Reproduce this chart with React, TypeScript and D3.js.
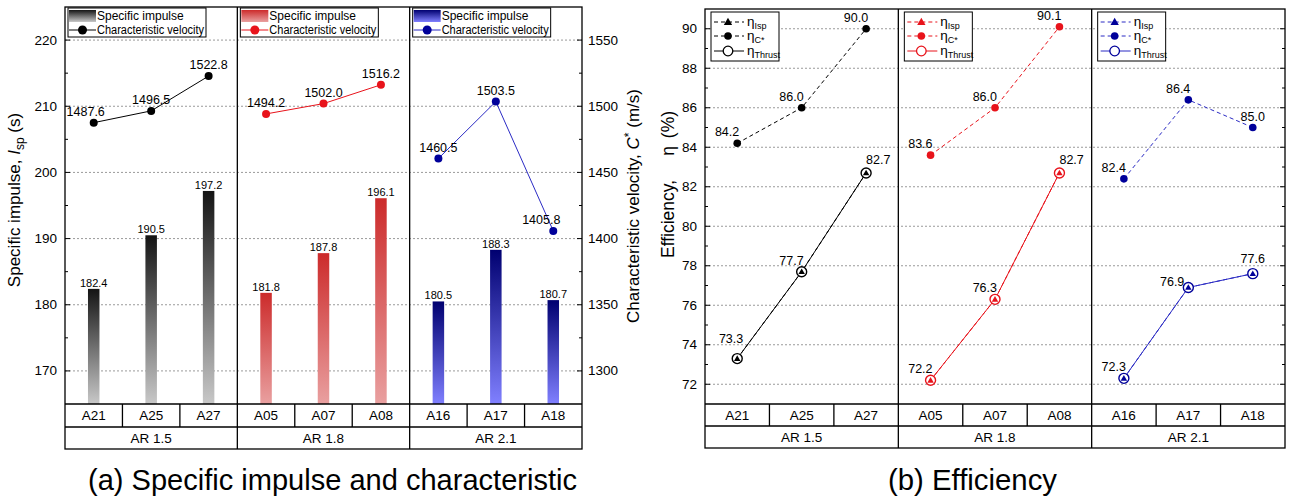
import React from "react";
import * as d3 from "d3";

const groups = ["AR 1.5", "AR 1.8", "AR 2.1"];
const categories = ["A21", "A25", "A27", "A05", "A07", "A08", "A16", "A17", "A18"];
const categoryGroup = [0, 0, 0, 1, 1, 1, 2, 2, 2];
const specificImpulse = [182.4, 190.5, 197.2, 181.8, 187.8, 196.1, 180.5, 188.3, 180.7];
const charVelocity = [1487.6, 1496.5, 1522.8, 1494.2, 1502.0, 1516.2, 1460.5, 1503.5, 1405.8];
const etaIsp = [73.3, 77.7, 82.7, 72.2, 76.3, 82.7, 72.3, 76.9, 77.6];
const etaCstar = [84.2, 86.0, 90.0, 83.6, 86.0, 90.1, 82.4, 86.4, 85.0];
const etaThrust = [73.3, 77.7, 82.7, 72.2, 76.3, 82.7, 72.3, 76.9, 77.6];
const ispTicks = [170, 180, 190, 200, 210, 220];
const ispMinor = [175, 185, 195, 205, 215];
const cstarTicks = [1300, 1350, 1400, 1450, 1500, 1550];
const cstarMinor = [1325, 1375, 1425, 1475, 1525];
const etaTicks = [72, 74, 76, 78, 80, 82, 84, 86, 88, 90];
const etaMinor = [73, 75, 77, 79, 81, 83, 85, 87, 89];

// label placement codes (style, not data)
const cvLabelPlace = ["u-", "u", "u", "u", "u", "u", "u", "u", "u--"];
const cstarLabelPlace = ["ul", "ul", "ul", "ul", "ul", "ul", "ul", "ul", "u"];
const thrustLabelPlace = ["ul+", "ul", "ur", "ul", "ul", "ur", "ul", "l", "u+"];

const lineColors = ["#000000", "#e8131b", "#2b2bc4"];
const markerColors = ["#000000", "#e8131b", "#00009a"];
const gradTop = ["#141414", "#cc2b2b", "#000070"];
const gradBottom = ["#c8c8c8", "#e9a0a0", "#8080ff"];

const FONT = "'Liberation Sans', Arial, Helvetica, sans-serif";

function placement(code: string) {
  switch (code) {
    case "u-": return { anchor: "middle", dx: -8, dy: -7 };
    case "u--": return { anchor: "middle", dx: -12, dy: -7 };
    case "u": return { anchor: "middle", dx: 0, dy: -7 };
    case "u+": return { anchor: "middle", dx: 0, dy: -11 };
    case "ul": return { anchor: "end", dx: 2, dy: -7 };
    case "ul+": return { anchor: "end", dx: 6, dy: -16 };
    case "ur": return { anchor: "start", dx: 0, dy: -9 };
    case "l": return { anchor: "end", dx: -4, dy: -1 };
    default: return { anchor: "middle", dx: 0, dy: -7 };
  }
}

function Triangle({ x, y, s, fill }: { x: number; y: number; s: number; fill: string }) {
  const p = d3.symbol(d3.symbolTriangle, s)();
  return <path d={p || ""} transform={`translate(${x},${y + 0.5})`} fill={fill} />;
}

function ChartA() {
  const x0 = 65, x1 = 582, yBottom = 404, catBottom = 427, grpBottom = 449;
  const y = d3.scaleLinear().domain([165, 225]).range([404, 7]);
  const yc = d3.scaleLinear().domain([1275, 1575]).range([404, 7]);
  const yTop = y(225);
  const gx = d3.scaleBand<string>().domain(groups).range([x0, x1]);
  const cx = d3.scaleBand<string>().domain(categories).range([x0, x1]);
  const barW = 11.5;
  return (
    <g fontFamily={FONT}>
      <defs>
        {groups.map((g, i) => (
          <linearGradient key={g} id={`barGrad${i}`} x1="0" y1="0" x2="0" y2="1">
            <stop offset="0" stopColor={gradTop[i]} />
            <stop offset="1" stopColor={gradBottom[i]} />
          </linearGradient>
        ))}
      </defs>
      {ispTicks.map((t) => (
        <line key={t} x1={x0} x2={x1} y1={y(t)} y2={y(t)} stroke="#9a9a9a" strokeDasharray="2,2" />
      ))}
      {categories.map((c, i) => {
        const bx = (cx(c) as number) + cx.bandwidth() / 2;
        return (
          <g key={c}>
            <rect x={bx - barW / 2} y={y(specificImpulse[i])} width={barW} height={yBottom - y(specificImpulse[i])} fill={`url(#barGrad${categoryGroup[i]})`} />
            <text x={bx} y={y(specificImpulse[i]) - 2} textAnchor="middle" fontSize={11}>{specificImpulse[i].toFixed(1)}</text>
          </g>
        );
      })}
      {groups.map((g, gi) => {
        const idx = categories.map((_, i) => i).filter((i) => categoryGroup[i] === gi);
        const line = d3.line<number>().x((i) => (cx(categories[i]) as number) + cx.bandwidth() / 2).y((i) => yc(charVelocity[i]));
        return (
          <g key={g}>
            <path d={line(idx) || ""} fill="none" stroke={lineColors[gi]} strokeWidth={1} />
            {idx.map((i) => {
              const px = (cx(categories[i]) as number) + cx.bandwidth() / 2;
              const py = yc(charVelocity[i]);
              const p = placement(cvLabelPlace[i]);
              return (
                <g key={i}>
                  <circle cx={px} cy={py} r={4} fill={markerColors[gi]} />
                  <text x={px + p.dx} y={py + p.dy} textAnchor={p.anchor as any} fontSize={12.5}>{charVelocity[i].toFixed(1)}</text>
                </g>
              );
            })}
          </g>
        );
      })}
      {ispTicks.map((t) => (
        <g key={t}>
          <line x1={x0} x2={x0 + 5} y1={y(t)} y2={y(t)} stroke="#000" />
          <text x={x0 - 8} y={y(t) + 4.5} textAnchor="end" fontSize={13.5}>{t}</text>
        </g>
      ))}
      {ispMinor.map((t) => (
        <line key={t} x1={x0} x2={x0 + 3} y1={y(t)} y2={y(t)} stroke="#000" />
      ))}
      {cstarTicks.map((t) => (
        <g key={t}>
          <line x1={x1 - 5} x2={x1} y1={yc(t)} y2={yc(t)} stroke="#000" />
          <text x={x1 + 6} y={yc(t) + 4.5} textAnchor="start" fontSize={13.5}>{t}</text>
        </g>
      ))}
      {cstarMinor.map((t) => (
        <line key={t} x1={x1 - 3} x2={x1} y1={yc(t)} y2={yc(t)} stroke="#000" />
      ))}
      {groups.map((g, gi) => {
        const lx = (gx(g) as number) + 3;
        const ly = yTop + 1;
        return (
          <g key={g}>
            <rect x={lx} y={ly} width={138} height={29} fill="#fff" stroke="#000" />
            <rect x={lx + 1} y={ly + 2} width={27} height={12} fill={`url(#barGrad${gi})`} />
            <text x={lx + 29} y={ly + 12} fontSize={12}>Specific impulse</text>
            <line x1={lx + 1} x2={lx + 28} y1={ly + 22} y2={ly + 22} stroke={lineColors[gi]} />
            <circle cx={lx + 14.5} cy={ly + 22} r={4.5} fill={markerColors[gi]} />
            <text x={lx + 29} y={ly + 26} fontSize={12} textLength={107} lengthAdjust="spacingAndGlyphs">Characteristic velocity</text>
          </g>
        );
      })}
      <rect x={x0} y={yTop} width={x1 - x0} height={grpBottom - yTop} fill="none" stroke="#000" strokeWidth={1.3} />
      <line x1={x0} x2={x1} y1={yBottom} y2={yBottom} stroke="#000" strokeWidth={1.3} />
      <line x1={x0} x2={x1} y1={catBottom} y2={catBottom} stroke="#000" strokeWidth={1.3} />
      {categories.map((c, i) => {
        const left = cx(c) as number;
        if (i === 0) return null;
        return i % 3 === 0 ? (
          <line key={c} x1={left} x2={left} y1={yTop} y2={grpBottom} stroke="#000" strokeWidth={1.3} />
        ) : (
          <line key={c} x1={left} x2={left} y1={yBottom} y2={catBottom} stroke="#000" strokeWidth={1.3} />
        );
      })}
      {categories.map((c) => (
        <text key={c} x={(cx(c) as number) + cx.bandwidth() / 2} y={420} textAnchor="middle" fontSize={13.5}>{c}</text>
      ))}
      {groups.map((g) => (
        <text key={g} x={(gx(g) as number) + gx.bandwidth() / 2} y={443} textAnchor="middle" fontSize={13.5}>{g}</text>
      ))}
      <text transform="translate(20,200) rotate(-90)" textAnchor="middle" fontSize={17}>
        Specific impulse, <tspan fontStyle="italic">I</tspan><tspan fontSize={12} dy={4}>sp</tspan><tspan dy={-4}> (s)</tspan>
      </text>
      <text transform="translate(639,206) rotate(-90)" textAnchor="middle" fontSize={17}>
        Characteristic velocity, <tspan fontStyle="italic">C</tspan><tspan fontSize={12} dy={-6}>*</tspan><tspan dy={6}> (m/s)</tspan>
      </text>
      <text x={88} y={490} fontSize={29} textLength={489} lengthAdjust="spacingAndGlyphs">(a) Specific impulse and characteristic</text>
    </g>
  );
}

function ChartB() {
  const x0 = 705, x1 = 1285, yBottom = 404, catBottom = 426, grpBottom = 448;
  const y = d3.scaleLinear().domain([71, 91]).range([404, 9]);
  const yTop = y(91);
  const gx = d3.scaleBand<string>().domain(groups).range([x0, x1]);
  const cx = d3.scaleBand<string>().domain(categories).range([x0, x1]);
  const px = (i: number) => (cx(categories[i]) as number) + cx.bandwidth() / 2;
  return (
    <g fontFamily={FONT}>
      {etaTicks.map((t) => (
        <line key={t} x1={x0} x2={x1} y1={y(t)} y2={y(t)} stroke="#9a9a9a" strokeDasharray="2,2" />
      ))}
      {groups.map((g, gi) => {
        const idx = categories.map((_, i) => i).filter((i) => categoryGroup[i] === gi);
        const lc = d3.line<number>().x(px).y((i) => y(etaCstar[i]));
        const li = d3.line<number>().x(px).y((i) => y(etaIsp[i]));
        const lt = d3.line<number>().x(px).y((i) => y(etaThrust[i]));
        return (
          <g key={g}>
            <path d={lc(idx) || ""} fill="none" stroke={lineColors[gi]} strokeDasharray="4,3" />
            <path d={li(idx) || ""} fill="none" stroke={lineColors[gi]} strokeDasharray="4,3" />
            <path d={lt(idx) || ""} fill="none" stroke={lineColors[gi]} />
            {idx.map((i) => {
              const pc = placement(cstarLabelPlace[i]);
              const pt = placement(thrustLabelPlace[i]);
              return (
                <g key={i}>
                  <circle cx={px(i)} cy={y(etaCstar[i])} r={3.8} fill={markerColors[gi]} />
                  <text x={px(i) + pc.dx} y={y(etaCstar[i]) + pc.dy} textAnchor={pc.anchor as any} fontSize={12.5}>{etaCstar[i].toFixed(1)}</text>
                  <circle cx={px(i)} cy={y(etaThrust[i])} r={5} fill="#fff" stroke={markerColors[gi]} strokeWidth={1.4} />
                  <Triangle x={px(i)} y={y(etaIsp[i])} s={18} fill={markerColors[gi]} />
                  <text x={px(i) + pt.dx} y={y(etaThrust[i]) + pt.dy} textAnchor={pt.anchor as any} fontSize={12.5}>{etaThrust[i].toFixed(1)}</text>
                </g>
              );
            })}
          </g>
        );
      })}
      {etaTicks.map((t) => (
        <g key={t}>
          <line x1={x0} x2={x0 + 5} y1={y(t)} y2={y(t)} stroke="#000" />
          <line x1={x1 - 5} x2={x1} y1={y(t)} y2={y(t)} stroke="#000" />
          <text x={x0 - 8} y={y(t) + 4.5} textAnchor="end" fontSize={13.5}>{t}</text>
        </g>
      ))}
      {etaMinor.map((t) => (
        <g key={t}>
          <line x1={x0} x2={x0 + 3} y1={y(t)} y2={y(t)} stroke="#000" />
          <line x1={x1 - 3} x2={x1} y1={y(t)} y2={y(t)} stroke="#000" />
        </g>
      ))}
      {groups.map((g, gi) => {
        const lx = (gx(g) as number) + 6;
        const ly = yTop + 3;
        const col = lineColors[gi];
        const mc = markerColors[gi];
        return (
          <g key={g}>
            <rect x={lx} y={ly} width={68} height={49} fill="#fff" stroke="#000" />
            <line x1={lx + 3} x2={lx + 33} y1={ly + 10} y2={ly + 10} stroke={col} strokeDasharray="4,3" />
            <Triangle x={lx + 17} y={ly + 10} s={30} fill={mc} />
            <text x={lx + 36} y={ly + 14} fontSize={13.5}>η<tspan fontSize={9} dy={3}>Isp</tspan></text>
            <line x1={lx + 3} x2={lx + 33} y1={ly + 24} y2={ly + 24} stroke={col} strokeDasharray="4,3" />
            <circle cx={lx + 17} cy={ly + 24} r={3.8} fill={mc} />
            <text x={lx + 36} y={ly + 28} fontSize={13.5}>η<tspan fontSize={9} dy={3}>C*</tspan></text>
            <line x1={lx + 3} x2={lx + 33} y1={ly + 39} y2={ly + 39} stroke={col} />
            <circle cx={lx + 17} cy={ly + 39} r={4.8} fill="#fff" stroke={mc} strokeWidth={1.3} />
            <text x={lx + 36} y={ly + 43} fontSize={13.5}>η<tspan fontSize={9} dy={3}>Thrust</tspan></text>
          </g>
        );
      })}
      <rect x={x0} y={yTop} width={x1 - x0} height={grpBottom - yTop} fill="none" stroke="#000" strokeWidth={1.3} />
      <line x1={x0} x2={x1} y1={yBottom} y2={yBottom} stroke="#000" strokeWidth={1.3} />
      <line x1={x0} x2={x1} y1={catBottom} y2={catBottom} stroke="#000" strokeWidth={1.3} />
      {categories.map((c, i) => {
        const left = cx(c) as number;
        if (i === 0) return null;
        return i % 3 === 0 ? (
          <line key={c} x1={left} x2={left} y1={yTop} y2={grpBottom} stroke="#000" strokeWidth={1.3} />
        ) : (
          <line key={c} x1={left} x2={left} y1={yBottom} y2={catBottom} stroke="#000" strokeWidth={1.3} />
        );
      })}
      {categories.map((c) => (
        <text key={c} x={(cx(c) as number) + cx.bandwidth() / 2} y={420} textAnchor="middle" fontSize={13.5}>{c}</text>
      ))}
      {groups.map((g) => (
        <text key={g} x={(gx(g) as number) + gx.bandwidth() / 2} y={442} textAnchor="middle" fontSize={13.5}>{g}</text>
      ))}
      <text transform="translate(674,258) rotate(-90)" textAnchor="start" fontSize={17.5}>
        Efficiency,<tspan dx={24}>η</tspan><tspan dx={8}>(%)</tspan>
      </text>
      <text x={888} y={490} fontSize={29} textLength={169} lengthAdjust="spacingAndGlyphs">(b) Efficiency</text>
    </g>
  );
}

export default function App() {
  return (
    <svg width={1289} height={498} style={{ position: "absolute", left: 0, top: 0, background: "#fff" }}>
      <rect width={1289} height={498} fill="#fff" />
      <ChartA />
      <ChartB />
    </svg>
  );
}
